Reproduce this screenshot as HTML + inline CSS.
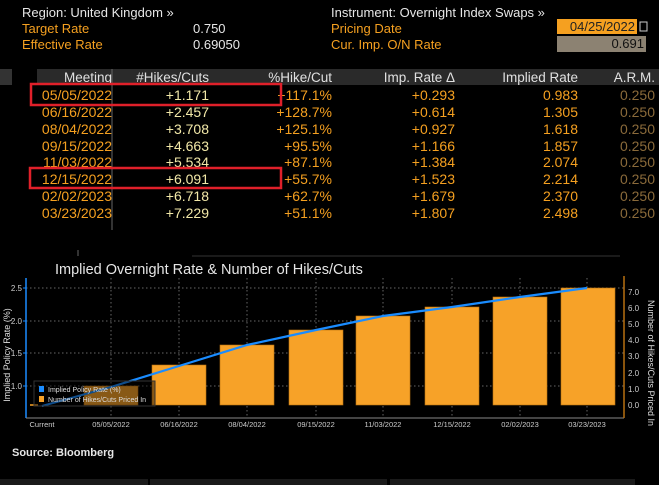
<!DOCTYPE html>
<html><head><meta charset="utf-8"><style>
html,body{margin:0;padding:0;background:#000;}
svg{display:block;}
text{font-family:"Liberation Sans",sans-serif;}
</style></head><body>
<svg width="659" height="485" viewBox="0 0 659 485" xmlns="http://www.w3.org/2000/svg">
<rect width="659" height="485" fill="#000"/>
<g font-size="13">
<text x="22" y="17" fill="#e6e6e6">Region: United Kingdom »</text>
<text x="22" y="33" fill="#f5a020">Target Rate</text>
<text x="22" y="49" fill="#f5a020">Effective Rate</text>
<text x="193" y="33" fill="#e6e6e6">0.750</text>
<text x="193" y="49" fill="#e6e6e6">0.69050</text>
<text x="331" y="17" fill="#e6e6e6">Instrument: Overnight Index Swaps »</text>
<text x="331" y="33" fill="#f5a020">Pricing Date</text>
<text x="331" y="49" fill="#f5a020">Cur. Imp. O/N Rate</text>
</g>
<rect x="557" y="19" width="80" height="15" fill="#f5a020"/>
<text x="635" y="31" font-size="13" fill="#222" text-anchor="end">04/25/2022</text>
<rect x="640" y="22" width="7" height="9" fill="none" stroke="#ccc" stroke-width="1"/>
<rect x="557" y="36" width="89" height="16" fill="#8c8272"/>
<text x="644" y="48" font-size="13" fill="#111" text-anchor="end">0.691</text>
<rect x="0" y="69" width="12" height="16" fill="#333"/>
<rect x="37" y="69" width="622" height="16" fill="#2a2a2a"/>
<line x1="112" y1="69" x2="112" y2="230" stroke="#666" stroke-width="1"/>
<g font-size="13.5" fill="#e0e0e0" text-anchor="end">
<text x="112" y="82">Meeting</text>
<text x="209" y="82">#Hikes/Cuts</text>
<text x="332" y="82">%Hike/Cut</text>
<text x="455" y="82">Imp. Rate Δ</text>
<text x="578" y="82">Implied Rate</text>
<text x="655" y="82">A.R.M.</text>
</g>
<g font-size="14" text-anchor="end">
<g fill="#f5a020">
<text x="112" y="100">05/05/2022</text><text x="112" y="117">06/16/2022</text><text x="112" y="134">08/04/2022</text><text x="112" y="151">09/15/2022</text><text x="112" y="167">11/03/2022</text><text x="112" y="184">12/15/2022</text><text x="112" y="201">02/02/2023</text><text x="112" y="218">03/23/2023</text>
</g>
<g fill="#f2e8a8">
<text x="209" y="100">+1.171</text><text x="209" y="117">+2.457</text><text x="209" y="134">+3.708</text><text x="209" y="151">+4.663</text><text x="209" y="167">+5.534</text><text x="209" y="184">+6.091</text><text x="209" y="201">+6.718</text><text x="209" y="218">+7.229</text>
</g>
<g fill="#f5a020">
<text x="332" y="100">+117.1%</text><text x="332" y="117">+128.7%</text><text x="332" y="134">+125.1%</text><text x="332" y="151">+95.5%</text><text x="332" y="167">+87.1%</text><text x="332" y="184">+55.7%</text><text x="332" y="201">+62.7%</text><text x="332" y="218">+51.1%</text>
<text x="455" y="100">+0.293</text><text x="455" y="117">+0.614</text><text x="455" y="134">+0.927</text><text x="455" y="151">+1.166</text><text x="455" y="167">+1.384</text><text x="455" y="184">+1.523</text><text x="455" y="201">+1.679</text><text x="455" y="218">+1.807</text>
<text x="578" y="100">0.983</text><text x="578" y="117">1.305</text><text x="578" y="134">1.618</text><text x="578" y="151">1.857</text><text x="578" y="167">2.074</text><text x="578" y="184">2.214</text><text x="578" y="201">2.370</text><text x="578" y="218">2.498</text>
</g>
<g fill="#8a6a3a">
<text x="655" y="100">0.250</text><text x="655" y="117">0.250</text><text x="655" y="134">0.250</text><text x="655" y="151">0.250</text><text x="655" y="167">0.250</text><text x="655" y="184">0.250</text><text x="655" y="201">0.250</text><text x="655" y="218">0.250</text>
</g>
</g>
<rect x="31" y="84" width="250" height="21" fill="none" stroke="#e0202a" stroke-width="2.5"/>
<rect x="30" y="168" width="251" height="20" fill="none" stroke="#e0202a" stroke-width="2.5"/>
<line x1="78" y1="250" x2="78" y2="256" stroke="#666"/>
<line x1="192" y1="256" x2="620" y2="256" stroke="#333"/>
<text x="55" y="274" font-size="14.5" fill="#e6e6e6">Implied Overnight Rate &amp; Number of Hikes/Cuts</text>
<g stroke="#666" stroke-dasharray="1.5,2.5" stroke-width="1">
<line x1="26" y1="288" x2="624" y2="288"/><line x1="26" y1="321" x2="624" y2="321"/><line x1="26" y1="353" x2="624" y2="353"/><line x1="26" y1="386" x2="624" y2="386"/>
<line x1="111" y1="278" x2="111" y2="418"/><line x1="179" y1="278" x2="179" y2="418"/><line x1="247" y1="278" x2="247" y2="418"/><line x1="316" y1="278" x2="316" y2="418"/><line x1="383" y1="278" x2="383" y2="418"/><line x1="452" y1="278" x2="452" y2="418"/><line x1="520" y1="278" x2="520" y2="418"/><line x1="587" y1="278" x2="587" y2="418"/>
</g>
<g fill="#f7a228" stroke="#b87010" stroke-width="0.6">
<rect x="84" y="386" width="54" height="19"/>
<rect x="152" y="365" width="54" height="40"/>
<rect x="220" y="345" width="54" height="60"/>
<rect x="289" y="330" width="54" height="75"/>
<rect x="356" y="316" width="54" height="89"/>
<rect x="425" y="307" width="54" height="98"/>
<rect x="493" y="297" width="54" height="108"/>
<rect x="561" y="288" width="54" height="117"/>
</g>
<line x1="30" y1="405" x2="38" y2="405" stroke="#f7a228" stroke-width="1.5"/>
<polyline fill="none" stroke="#1a8cff" stroke-width="2.2" points="42,406 111,387 179,366 247,345 316,330 383,316 452,307 520,297 587,288"/>
<rect x="34" y="381" width="121" height="25" fill="#000" fill-opacity="0.45" stroke="#333"/>
<rect x="39" y="386" width="5" height="6" fill="#1a8cff"/>
<rect x="39" y="396" width="5" height="6" fill="#f7a228"/>
<text x="48" y="392" font-size="7" fill="#ddd">Implied Policy Rate (%)</text>
<text x="48" y="402" font-size="7" fill="#ddd">Number of Hikes/Cuts Priced In</text>
<line x1="26" y1="278" x2="26" y2="418" stroke="#1a8cff" stroke-width="1.5"/>
<line x1="26" y1="418" x2="624" y2="418" stroke="#888" stroke-width="1"/>
<line x1="624" y1="276" x2="624" y2="418" stroke="#b87010" stroke-width="1.5"/>
<g font-size="8" fill="#ccc" text-anchor="end">
<text x="22" y="291">2.5</text><text x="22" y="324">2.0</text><text x="22" y="356">1.5</text><text x="22" y="389">1.0</text>
</g>
<g stroke="#1a8cff"><line x1="23" y1="288" x2="26" y2="288"/><line x1="23" y1="321" x2="26" y2="321"/><line x1="23" y1="353" x2="26" y2="353"/><line x1="23" y1="386" x2="26" y2="386"/></g>
<text transform="translate(10,355) rotate(-90)" font-size="9" fill="#ddd" text-anchor="middle">Implied Policy Rate (%)</text>
<g font-size="8" fill="#ccc">
<text x="628" y="295">7.0</text><text x="628" y="311">6.0</text><text x="628" y="327">5.0</text><text x="628" y="343">4.0</text><text x="628" y="359">3.0</text><text x="628" y="376">2.0</text><text x="628" y="392">1.0</text><text x="628" y="408">0.0</text>
</g>
<text transform="translate(648,363) rotate(90)" font-size="9" fill="#ddd" text-anchor="middle">Number of Hikes/Cuts Priced In</text>
<g font-size="7.5" fill="#ccc" text-anchor="middle">
<text x="42" y="427">Current</text><text x="111" y="427">05/05/2022</text><text x="179" y="427">06/16/2022</text><text x="247" y="427">08/04/2022</text><text x="316" y="427">09/15/2022</text><text x="383" y="427">11/03/2022</text><text x="452" y="427">12/15/2022</text><text x="520" y="427">02/02/2023</text><text x="587" y="427">03/23/2023</text>
</g>
<text x="12" y="456" font-size="11" font-weight="bold" fill="#e6e6e6">Source: Bloomberg</text>
<rect x="0" y="479" width="148" height="6" fill="#1a1a1a"/>
<rect x="150" y="479" width="237" height="6" fill="#1a1a1a"/>
<rect x="390" y="479" width="245" height="6" fill="#1a1a1a"/>
</svg>
</body></html>
